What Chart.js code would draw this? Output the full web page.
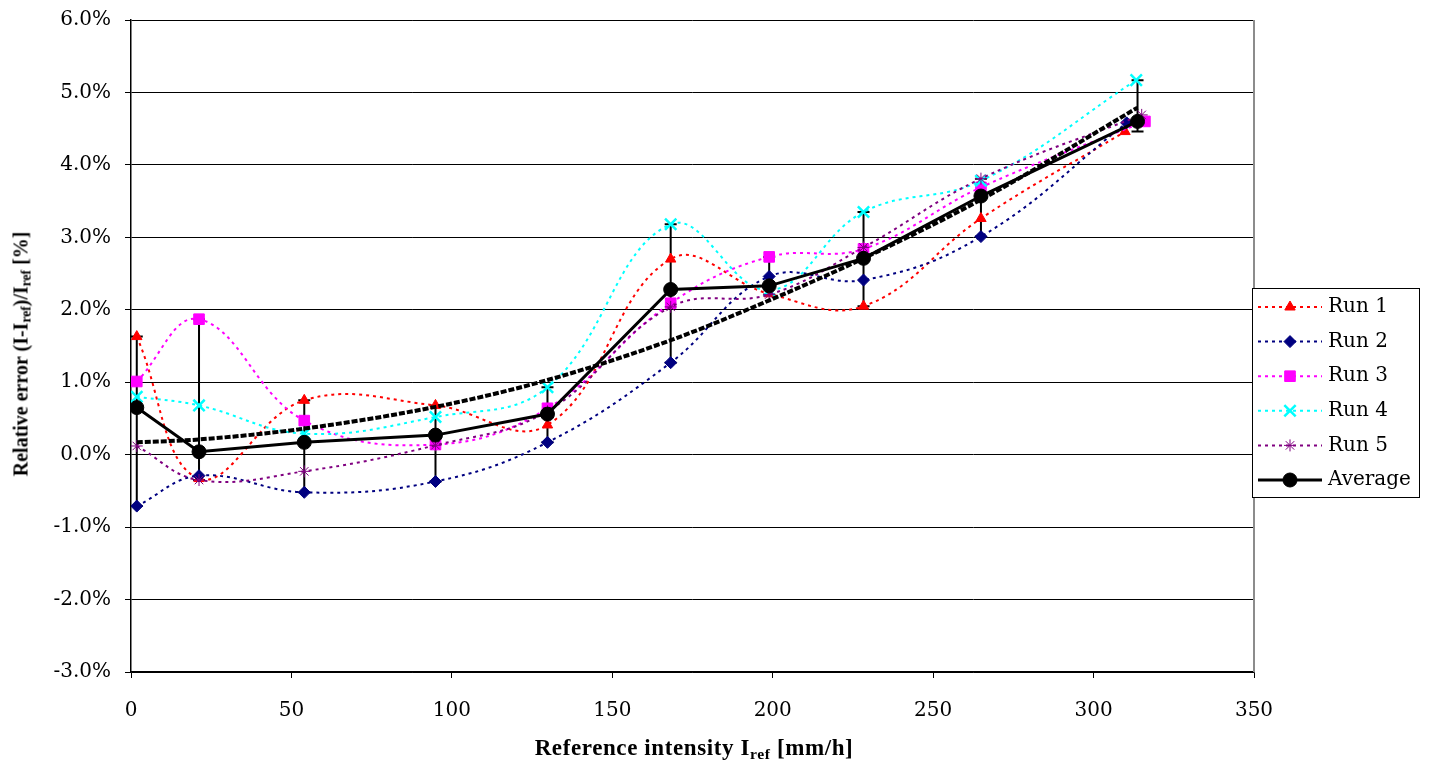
<!DOCTYPE html>
<html>
<head>
<meta charset="utf-8">
<script src="https://cdn.jsdelivr.net/npm/chart.js"></script>
<style>
	body { margin: 0; background: #fff; }
	#wrap { position: relative; width: 1432px; height: 765px; }
	.axisTitle { position: absolute; font-family: "Liberation Serif", serif; font-weight: bold; color: #000; white-space: nowrap; }
	.axisTitle sub { font-size: 0.68em; vertical-align: -0.25em; line-height: 0; }
	#xTitle { left: 694px; top: 748px; font-size: 23px; letter-spacing: 0.6px; transform: translate(-50%, -50%); }
	#yTitle { left: 21px; top: 354px; font-size: 20px; transform: translate(-50%, -50%) rotate(-90deg); }
</style>
</head>
<body>
<div id="wrap">
	<canvas id="errChart" width="1432" height="765"></canvas>
	<div id="xTitle" class="axisTitle">Reference intensity I<sub>ref</sub> [mm/h]</div>
	<div id="yTitle" class="axisTitle">Relative error (I-I<sub>ref</sub>)/I<sub>ref</sub> [%]</div>
</div>
<script>
// reference intensity of each measurement group (mm/h)
const refX = [1.8, 21.2, 54.0, 94.9, 129.8, 168.2, 198.9, 228.3, 264.9, 313.7];
// last group was measured at slightly different intensities per run
const run1X = [1.8, 21.2, 54.0, 94.9, 129.8, 168.2, 198.9, 228.3, 264.9, 309.8];
const run2X = [1.8, 21.2, 54.0, 94.9, 129.8, 168.2, 198.9, 228.3, 264.9, 310.3];
const run3X = [1.8, 21.2, 54.0, 94.9, 129.8, 168.2, 198.9, 228.3, 264.9, 316.0];
const run4X = [1.8, 21.2, 54.0, 94.9, 129.8, 168.2, 198.9, 228.3, 264.9, 313.3];
const run5X = [1.8, 21.2, 54.0, 94.9, 129.8, 168.2, 198.9, 228.3, 264.9, 315.0];

// relative error in %
const run1 = [1.63, -0.33, 0.75, 0.68, 0.41, 2.70, 2.22, 2.05, 3.26, 4.46];
const run2 = [-0.71, -0.29, -0.52, -0.37, 0.17, 1.27, 2.46, 2.41, 3.01, 4.58];
const run3 = [1.01, 1.87, 0.47, 0.14, 0.64, 2.09, 2.73, 2.84, 3.69, 4.60];
const run4 = [0.80, 0.68, 0.29, 0.52, 0.93, 3.18, 2.27, 3.35, 3.78, 5.17];
const run5 = [0.12, -0.35, -0.23, 0.13, 0.60, 2.04, 2.21, 2.86, 3.81, 4.69];
const average = [0.65, 0.04, 0.17, 0.27, 0.56, 2.28, 2.33, 2.71, 3.57, 4.60];
const trend = [0.17, 0.21, 0.36, 0.66, 1.03, 1.58, 2.13, 2.71, 3.52, 4.79];

const xTicks = [0, 50, 100, 150, 200, 250, 300, 350];
const yTicks = [-3, -2, -1, 0, 1, 2, 3, 4, 5, 6];

const legendNames = ['Run 1', 'Run 2', 'Run 3', 'Run 4', 'Run 5', 'Average'];

const tickFont = { family: 'DejaVu Serif', size: 20 };

function toPoints(xs, ys)
{
	return ys.map((y, i) => ({ x: xs[i], y: y }));
}

function runSet(label, xs, ys, color, style, radius, order)
{
	return {
		label: label,
		data: toPoints(xs, ys),
		showLine: true,
		tension: 0.4,
		borderColor: color,
		borderWidth: 2,
		borderDash: [3, 4],
		pointStyle: style,
		pointRadius: radius,
		pointBackgroundColor: color,
		pointBorderColor: color,
		pointBorderWidth: style == 'crossRot' ? 2.5 : 1,
		order: order
	};
}

// min / max of the runs at each group -> error bar
function errorRange()
{
	const runs = [run1, run2, run3, run4, run5];
	return refX.map((x, i) => {
		const vals = runs.map(r => r[i]);
		return { x: x, lo: Math.min(...vals), hi: Math.max(...vals) };
	});
}

const errorBars = {
	id: 'errorBars',
	beforeDatasetsDraw(chart)
	{
		const ctx = chart.ctx;
		const xs = chart.scales.x;
		const ys = chart.scales.y;
		ctx.save();
		ctx.strokeStyle = '#000';
		ctx.lineWidth = 2;
		errorRange().forEach(e => {
			const px = xs.getPixelForValue(e.x);
			const top = ys.getPixelForValue(e.hi);
			const bot = ys.getPixelForValue(e.lo);
			ctx.beginPath();
			ctx.moveTo(px, top);
			ctx.lineTo(px, bot);
			ctx.moveTo(px - 6, top);
			ctx.lineTo(px + 6, top);
			ctx.moveTo(px - 6, bot);
			ctx.lineTo(px + 6, bot);
			ctx.stroke();
		});
		ctx.restore();
	}
};

// grey right edge of the plot area
const plotEdge = {
	id: 'plotEdge',
	beforeDatasetsDraw(chart)
	{
		const a = chart.chartArea;
		const ctx = chart.ctx;
		ctx.save();
		ctx.strokeStyle = '#8c8c8c';
		ctx.lineWidth = 2;
		ctx.beginPath();
		ctx.moveTo(a.right, a.top);
		ctx.lineTo(a.right, a.bottom);
		ctx.stroke();
		ctx.restore();
	}
};

// boxed legend sitting over the right edge of the plot
const boxLegend = {
	id: 'boxLegend',
	afterDraw(chart)
	{
		const ctx = chart.ctx;
		const left = 1252, top = 288, w = 167, h = 209;
		ctx.save();
		ctx.fillStyle = '#fff';
		ctx.fillRect(left, top, w, h);
		ctx.strokeStyle = '#000';
		ctx.lineWidth = 1;
		ctx.strokeRect(left + 0.5, top + 0.5, w, h);

		legendNames.forEach((name, i) => {
			const ds = chart.data.datasets.find(d => d.label == name);
			const y = 307 + i * 34.6;
			ctx.save();
			ctx.strokeStyle = ds.borderColor;
			ctx.lineWidth = ds.borderWidth;
			ctx.setLineDash(ds.borderDash || []);
			ctx.beginPath();
			ctx.moveTo(1258, y);
			ctx.lineTo(1322, y);
			ctx.stroke();
			ctx.restore();

			ctx.save();
			ctx.fillStyle = ds.pointBackgroundColor;
			ctx.strokeStyle = ds.pointBorderColor;
			ctx.lineWidth = ds.pointBorderWidth;
			Chart.helpers.drawPoint(ctx, {
				pointStyle: ds.pointStyle,
				radius: ds.pointRadius,
				rotation: 0,
				borderWidth: ds.pointBorderWidth
			}, 1290, y);
			ctx.restore();

			ctx.fillStyle = '#000';
			ctx.font = '20px "DejaVu Serif"';
			ctx.textBaseline = 'middle';
			ctx.fillText(name, 1328, y);
		});
		ctx.restore();
	}
};

function main()
{
	const ctx = document.getElementById('errChart').getContext('2d');

	const datasets = [
		runSet('Run 1', run1X, run1, '#ff0000', 'triangle', 6, 6),
		runSet('Run 2', run2X, run2, '#000080', 'rectRot', 6, 5),
		runSet('Run 3', run3X, run3, '#ff00ff', 'rect', 7.5, 4),
		runSet('Run 4', run4X, run4, '#00ffff', 'crossRot', 8, 3),
		runSet('Run 5', run5X, run5, '#800080', 'star', 6, 2),
		{
			label: 'Trend',
			data: toPoints(refX, trend),
			showLine: true,
			cubicInterpolationMode: 'monotone',
			borderColor: '#000',
			borderWidth: 4,
			borderDash: [6, 2],
			pointRadius: 0,
			order: 1
		},
		{
			label: 'Average',
			data: toPoints(refX, average),
			showLine: true,
			tension: 0,
			borderColor: '#000',
			borderWidth: 3,
			pointStyle: 'circle',
			pointRadius: 7,
			pointBackgroundColor: '#000',
			pointBorderColor: '#000',
			pointBorderWidth: 1,
			order: 0
		}
	];

	new Chart(ctx, {
		type: 'scatter',
		data: { datasets: datasets },
		options: {
			responsive: false,
			animation: false,
			layout: { padding: { left: 0, right: 178, top: 20, bottom: 0 } },
			plugins: {
				legend: { display: false },
				tooltip: { enabled: false }
			},
			scales: {
				x: {
					type: 'linear',
					min: xTicks[0],
					max: xTicks[xTicks.length - 1],
					afterBuildTicks: (s) => { s.ticks = xTicks.map(v => ({ value: v })); },
					afterFit: (s) => { s.height = 93; },
					ticks: { color: '#000', font: tickFont, padding: 21, maxRotation: 0 },
					grid: { drawOnChartArea: false, color: '#000', tickLength: 6 },
					border: { color: '#000', width: 1.5 }
				},
				y: {
					type: 'linear',
					min: yTicks[0],
					max: yTicks[yTicks.length - 1],
					afterBuildTicks: (s) => { s.ticks = yTicks.map(v => ({ value: v })); },
					afterFit: (s) => {
						s.width = 131;
						s.paddingTop = 0;
						s.paddingBottom = 0;
					},
					ticks: {
						color: '#000',
						font: tickFont,
						padding: 14,
						callback: (v) => v.toFixed(1) + '%'
					},
					grid: { color: '#000', lineWidth: 1, tickLength: 6 },
					border: { color: '#000', width: 1.5 }
				}
			}
		},
		plugins: [plotEdge, errorBars, boxLegend]
	});
}

main();
</script>
</body>
</html>
